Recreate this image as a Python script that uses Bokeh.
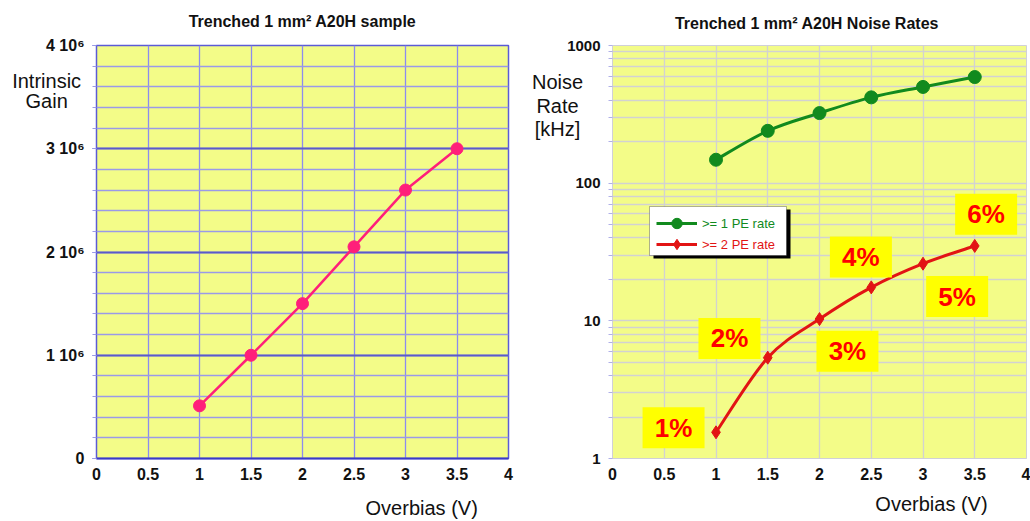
from bokeh.plotting import figure
from bokeh.layouts import row
from bokeh.models import (Label, FixedTicker, Range1d, CustomJSTickFormatter,
                          Legend, LegendItem, BoxAnnotation, ColumnDataSource)
from bokeh.core.properties import value
from bokeh.embed import file_html
from bokeh.resources import INLINE
import math

# ---------------- data ----------------
overbias = [1.0, 1.5, 2.0, 2.5, 3.0, 3.5]
gain = [0.51e6, 1.0e6, 1.5e6, 2.05e6, 2.6e6, 3.0e6]
rate_1pe = [148, 240, 323, 420, 500, 590]
rate_2pe = [1.55, 5.4, 10.3, 17.5, 26, 35]
pct_labels = ["1%", "2%", "3%", "4%", "5%", "6%"]
pct_x = [0.59, 1.13, 2.27, 2.40, 3.33, 3.61]
pct_y = [1.67, 7.45, 6.0, 29.1, 15.0, 59.4]
x_ticks = [0, 0.5, 1, 1.5, 2, 2.5, 3, 3.5, 4]
gain_ticks = [0, 1e6, 2e6, 3e6, 4e6]
rate_ticks = [1, 10, 100, 1000]

FONT = "Liberation Sans"
YELLOW = "#f3fc88"
PINK = "#ff1f7a"
GREEN = "#118a1e"
RED = "#e21414"
INK = "#111111"

x_fmt = CustomJSTickFormatter(code="return tick.toString()")


def smooth_bezier(xs, ys, log=False):
    """Catmull-Rom control points (in log space for a log axis)."""
    ty = [math.log10(v) for v in ys] if log else list(ys)
    f = (lambda v: 10 ** v) if log else (lambda v: v)
    n = len(xs)
    out = dict(x0=[], y0=[], x1=[], y1=[], cx0=[], cy0=[], cx1=[], cy1=[])
    for i in range(n - 1):
        im1 = max(i - 1, 0)
        ip2 = min(i + 2, n - 1)
        out["x0"].append(xs[i]); out["y0"].append(f(ty[i]))
        out["x1"].append(xs[i + 1]); out["y1"].append(f(ty[i + 1]))
        out["cx0"].append(xs[i] + (xs[i + 1] - xs[im1]) / 6.0)
        out["cy0"].append(f(ty[i] + (ty[i + 1] - ty[im1]) / 6.0))
        out["cx1"].append(xs[i + 1] - (xs[ip2] - xs[i]) / 6.0)
        out["cy1"].append(f(ty[i + 1] - (ty[ip2] - ty[i]) / 6.0))
    return out


def side_label(p, side, text, x, y, size="20px", bold=False, **kw):
    """Text placed in a side panel (so it is not clipped), positioned in data units."""
    lab = Label(x=x, y=y, x_units="data", y_units="data", text=text,
                text_font=FONT, text_font_size=size,
                text_font_style="bold" if bold else "normal",
                text_align="center", text_baseline="alphabetic", text_color=INK, **kw)
    p.add_layout(lab, side)
    return lab


def style_axes(p):
    for ax in (p.xaxis[0], p.yaxis[0]):
        ax.major_label_text_font = FONT
        ax.major_label_text_font_style = "bold"
        ax.major_label_text_font_size = "16px"
        ax.major_label_text_color = INK
    p.xaxis.major_tick_line_color = None
    p.xaxis.minor_tick_line_color = None
    p.xaxis.major_label_standoff = 3
    p.yaxis.major_tick_out = 4
    p.yaxis.minor_tick_out = 4
    p.yaxis.major_tick_in = 0
    p.yaxis.minor_tick_in = 0
    p.yaxis.major_label_standoff = 8


# ---------------- left chart ----------------
p1 = figure(width=515, height=521, x_range=Range1d(0, 4), y_range=Range1d(0, 4e6),
            title=None, output_backend="svg", toolbar_location=None,
            min_border_left=95, min_border_right=7, min_border_top=45, min_border_bottom=63,
            background_fill_color=YELLOW, border_fill_color="white")
p1.outline_line_color = "#5b5bd6"
p1.outline_line_width = 1.5

p1.xaxis.ticker = FixedTicker(ticks=x_ticks)
p1.xaxis.formatter = x_fmt
p1.yaxis.ticker = FixedTicker(ticks=gain_ticks, minor_ticks=[i * 0.2e6 for i in range(21)])
p1.yaxis.formatter = CustomJSTickFormatter(
    code="return tick == 0 ? '0' : Math.round(tick/1e6) + ' 10\u2076'")
style_axes(p1)
p1.xaxis.axis_line_color = "#3a3ac8"
p1.xaxis.axis_line_width = 2
p1.yaxis.axis_line_color = "#5b5bd6"
p1.yaxis.major_tick_line_color = "#5b5bd6"
p1.yaxis.minor_tick_line_color = "#9a9ae8"

p1.xgrid.grid_line_color = "#8c8cef"
p1.xgrid.grid_line_width = 1.3
p1.ygrid.grid_line_color = "#5a5acb"
p1.ygrid.grid_line_width = 2
p1.ygrid.minor_grid_line_color = "#9a9ae8"
p1.ygrid.minor_grid_line_width = 1.3

p1.line(overbias, gain, line_color=PINK, line_width=2.5)
p1.scatter(overbias, gain, size=12, fill_color=PINK, line_color=PINK)

side_label(p1, "above", "Trenched 1 mm\u00b2 A20H sample", 2.0, 4.232e6, size="16px", bold=True)
side_label(p1, "above", "Intrinsic", -0.484, 3.661e6)
side_label(p1, "left", "Gain", -0.484, 3.458e6)
side_label(p1, "below", "Overbias (V)", 3.157, -0.475e6)

# ---------------- right chart ----------------
p2 = figure(width=515, height=521, x_range=Range1d(0, 4), y_range=Range1d(1, 1000),
            y_axis_type="log", title=None, output_backend="svg", toolbar_location=None,
            min_border_left=97, min_border_right=4, min_border_top=45, min_border_bottom=60,
            background_fill_color=YELLOW, border_fill_color="white")
p2.outline_line_color = "#d0d0d8"

p2.xaxis.ticker = FixedTicker(ticks=x_ticks)
p2.xaxis.formatter = x_fmt
p2.yaxis.ticker = FixedTicker(ticks=rate_ticks,
                              minor_ticks=[m * 10 ** d for d in range(3) for m in range(2, 10)])
p2.yaxis.formatter = CustomJSTickFormatter(code="return tick.toFixed(0)")
style_axes(p2)
p2.yaxis.major_label_text_font_size = "15px"
p2.xaxis.axis_line_color = "#d0d0d8"
p2.yaxis.axis_line_color = "#d0d0d8"
p2.yaxis.major_tick_line_color = "#b0b0e8"
p2.yaxis.minor_tick_line_color = "#b0b0e8"

p2.xgrid.grid_line_color = "#d2d2d2"
p2.ygrid.grid_line_color = "#d2d2d2"
p2.ygrid.minor_grid_line_color = "#d2d2d2"
p2.xgrid.grid_line_width = 1.3
p2.ygrid.grid_line_width = 1.3
p2.ygrid.minor_grid_line_width = 1.3

g_src = ColumnDataSource(smooth_bezier(overbias, rate_1pe, log=True))
r_src = ColumnDataSource(smooth_bezier(overbias, rate_2pe, log=True))
g_line = p2.bezier(x0="x0", y0="y0", x1="x1", y1="y1", cx0="cx0", cy0="cy0",
                   cx1="cx1", cy1="cy1", source=g_src, line_color=GREEN, line_width=3)
g_pts = p2.scatter(overbias, rate_1pe, size=13, fill_color=GREEN, line_color=GREEN)
r_line = p2.bezier(x0="x0", y0="y0", x1="x1", y1="y1", cx0="cx0", cy0="cy0",
                   cx1="cx1", cy1="cy1", source=r_src, line_color=RED, line_width=3)
r_pts = p2.scatter(overbias, rate_2pe, marker="diamond", size=13, fill_color=RED, line_color=RED)

# percentage call-outs
p2.rect(pct_x, pct_y, width=62, height=41, width_units="screen", height_units="screen",
        fill_color="#ffff00", line_color=None)
p2.text(pct_x, pct_y, text=pct_labels, text_font=value(FONT), text_font_style="bold",
        text_font_size="26px", text_color="#ff0000", text_align="center",
        text_baseline="middle")

# legend frame with shadow
p2.add_layout(BoxAnnotation(left=41, right=178, top=249, bottom=200,
                            left_units="screen", right_units="screen",
                            top_units="screen", bottom_units="screen",
                            fill_color="black", fill_alpha=1, line_color=None))
p2.add_layout(BoxAnnotation(left=37, right=174, top=252, bottom=203,
                            left_units="screen", right_units="screen",
                            top_units="screen", bottom_units="screen",
                            fill_color="white", fill_alpha=1, line_color="black",
                            line_width=1))

for item_label, rends, color, ly in [(">= 1 PE rate", [g_line, g_pts], GREEN, 222),
                                     (">= 2 PE rate", [r_line, r_pts], RED, 201)]:
    leg = Legend(items=[LegendItem(label=item_label, renderers=rends)],
                 location=(44, ly), background_fill_alpha=0, border_line_alpha=0,
                 label_text_color=color, label_text_font=FONT, label_text_font_size="13px",
                 glyph_width=41, glyph_height=26, padding=0, margin=0, label_standoff=5,
                 spacing=0)
    p2.add_layout(leg)

side_label(p2, "above", "Trenched 1 mm\u00b2 A20H Noise Rates", 1.879, 1441, size="16px", bold=True)
side_label(p2, "above", "Noise", -0.531, 543)
side_label(p2, "left", "Rate\n[kHz]", -0.531, 302, text_line_height=1.05)
side_label(p2, "below", "Overbias (V)", 3.082, 0.466)

layout = row(p1, p2)
open("out.html", "w").write(file_html(layout, INLINE))
